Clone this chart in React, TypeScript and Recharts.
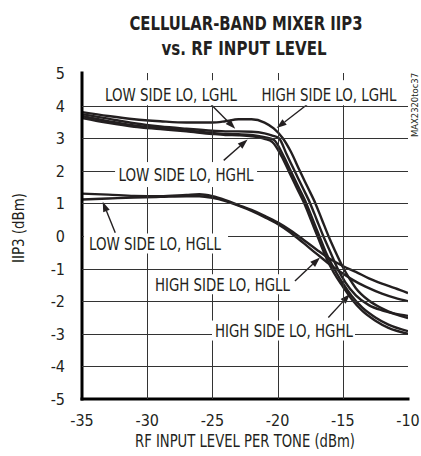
import React from 'react'
import { LineChart, Line, XAxis, YAxis, ReferenceLine } from 'recharts'

const INK = '#231f20'
const GRID = '#333333'
const FONT = "'Liberation Sans Narrow', 'Arial Narrow', 'DejaVu Sans Condensed', Roboto, sans-serif"

const xTicks = [-35, -30, -25, -20, -15, -10]
const yTicks = [-5, -4, -3, -2, -1, 0, 1, 2, 3, 4, 5]

// IIP3 (dBm) vs RF input level per tone (dBm)
const highSideLghl = [
  [-35, 3.8], [-33, 3.68], [-31, 3.58], [-29, 3.52], [-27, 3.48], [-25, 3.48],
  [-24, 3.52], [-23, 3.58], [-22, 3.58], [-21, 3.48], [-20.3, 3.3], [-19.6, 3.0],
  [-19, 2.6], [-18.3, 2.0], [-17.7, 1.5], [-17.1, 1.0], [-16.6, 0.5], [-16.1, 0],
  [-15.6, -0.45], [-15, -0.95], [-14.5, -1.3], [-14, -1.6], [-13, -1.98],
  [-12, -2.22], [-11, -2.4], [-10, -2.52],
]
const lowSideLghl = [
  [-35, 3.74], [-33, 3.6], [-31, 3.46], [-29, 3.36], [-27, 3.29], [-25, 3.23],
  [-24, 3.21], [-23, 3.21], [-22, 3.2], [-21, 3.15], [-20.4, 3.08], [-19.9, 3.0],
  [-19.3, 2.5], [-18.7, 2.0], [-18.1, 1.5], [-17.5, 1.0], [-17, 0.5], [-16.5, 0],
  [-16, -0.45], [-15.4, -1.0], [-14.8, -1.42], [-14, -1.82], [-13, -2.12],
  [-12, -2.28], [-11, -2.38], [-10, -2.45],
]
const highSideHghl = [
  [-35, 3.68], [-33, 3.52], [-31, 3.39], [-29, 3.31], [-27, 3.24], [-25, 3.16],
  [-24, 3.13], [-23, 3.12], [-22, 3.1], [-21, 3.03], [-20.3, 2.95], [-19.6, 2.5],
  [-19, 2.0], [-18.4, 1.5], [-17.8, 1.0], [-17.3, 0.5], [-16.8, 0], [-16.3, -0.5],
  [-15.6, -1.05], [-15, -1.45], [-14.3, -1.85], [-13.5, -2.2], [-12.5, -2.5],
  [-11.5, -2.72], [-10, -2.92],
]
const lowSideHghl = [
  [-35, 3.62], [-33, 3.47], [-31, 3.35], [-29, 3.28], [-27, 3.21], [-25, 3.13],
  [-24, 3.1], [-23, 3.09], [-22, 3.06], [-21, 2.98], [-20.4, 2.88], [-19.7, 2.45],
  [-19.1, 1.95], [-18.5, 1.45], [-17.9, 0.95], [-17.4, 0.45], [-16.9, -0.05],
  [-16.4, -0.55], [-15.7, -1.12], [-15, -1.55], [-14.3, -1.95], [-13.5, -2.3],
  [-12.5, -2.6], [-11.5, -2.82], [-10, -3.0],
]
const lowSideHgll = [
  [-35, 1.12], [-33, 1.15], [-31, 1.18], [-29, 1.2], [-27, 1.22], [-26, 1.22],
  [-25, 1.17], [-24, 1.07], [-23, 0.93], [-22, 0.77], [-21, 0.58], [-20, 0.37],
  [-19, 0.1], [-18, -0.22], [-17, -0.55], [-16, -0.87], [-15, -1.15], [-14, -1.4],
  [-13, -1.6], [-12, -1.77], [-11, -1.9], [-10, -2.0],
]
const highSideHgll = [
  [-35, 1.3], [-33, 1.27], [-31, 1.23], [-29, 1.22], [-27, 1.26], [-26, 1.28],
  [-25, 1.22], [-24, 1.1], [-23, 0.95], [-22, 0.8], [-21, 0.62], [-20, 0.42],
  [-19, 0.17], [-18, -0.12], [-17, -0.42], [-16, -0.7], [-15, -0.92], [-14, -1.1],
  [-13, -1.3], [-12, -1.46], [-11, -1.6], [-10, -1.75],
]

const series = [
  { name: 'HIGH SIDE LO, LGHL', points: highSideLghl },
  { name: 'LOW SIDE LO, LGHL', points: lowSideLghl },
  { name: 'HIGH SIDE LO, HGHL', points: highSideHghl },
  { name: 'LOW SIDE LO, HGHL', points: lowSideHghl },
  { name: 'LOW SIDE LO, HGLL', points: lowSideHgll },
  { name: 'HIGH SIDE LO, HGLL', points: highSideHgll },
]

// callouts: text centre and arrow (data units); box = white backing [left, right, top, bottom] in px
const callouts = [
  { text: 'LOW SIDE LO, LGHL', at: [-28.17, 4.35], len: 132, box: [-87, 79, -14, 11], arrow: [[-25.16, 4.06], [-23.25, 3.29]] },
  { text: 'HIGH SIDE LO, LGHL', at: [-16.06, 4.35], len: 135, box: [-79, 76, -14, 11], arrow: [[-17.26, 4.18], [-20.07, 3.31]] },
  { text: 'LOW SIDE LO, HGHL', at: [-27.02, 1.9], len: 135, box: [-71, 71, -12, 13], arrow: [[-24.13, 2.32], [-22.3, 2.96]] },
  { text: 'LOW SIDE LO, HGLL', at: [-29.4, -0.23], len: 132, box: [-71, 73, -10, 10], arrow: [[-32.45, 0.1], [-33.41, 1.05]] },
  { text: 'HIGH SIDE LO, HGLL', at: [-24.23, -1.48], len: 135, box: [-70, 70, -10, 10], arrow: [[-18.67, -1.38], [-16.75, -0.66]] },
  { text: 'HIGH SIDE LO, HGHL', at: [-19.51, -2.9], len: 138, box: [-72, 71, -10, 10], arrow: [[-16.11, -2.5], [-14.45, -1.78]] },
]

// plot box inside the 421x456 page
const W = 421
const H = 456
const M = { top: 73, right: 13, bottom: 57, left: 82 }
const PW = W - M.left - M.right
const PH = H - M.top - M.bottom
const [xMin, xMax] = [xTicks[0], xTicks[xTicks.length - 1]]
const [yMin, yMax] = [yTicks[0], yTicks[yTicks.length - 1]]
const gx = (v: number) => M.left + ((v - xMin) / (xMax - xMin)) * PW
const gy = (v: number) => M.top + ((yMax - v) / (yMax - yMin)) * PH
const crisp = (v: number) => Math.round(v) + 0.5

const XTick = (p: any) => (
  <text x={p.x} y={p.y + 27} textAnchor="middle" fontSize={16} fill={INK} fontFamily={FONT}>
    {p.payload.value}
  </text>
)

const YTick = (p: any) => (
  <text x={p.x - 17} y={p.y + 6} textAnchor="end" fontSize={16} fill={INK} fontFamily={FONT}>
    {p.payload.value}
  </text>
)

function Arrow(p: any) {
  const { x1, y1, x2, y2 } = p
  const a = Math.atan2(y2 - y1, x2 - x1)
  const c = Math.cos(a)
  const s = Math.sin(a)
  const bx = x2 - 10 * c
  const by = y2 - 10 * s
  const pts = `${x2},${y2} ${bx + 3.5 * s},${by - 3.5 * c} ${bx - 3.5 * s},${by + 3.5 * c}`
  return (
    <g>
      <line x1={x1} y1={y1} x2={bx} y2={by} stroke={INK} strokeWidth={1.4} />
      <polygon points={pts} fill={INK} />
    </g>
  )
}

const frame = { stroke: '#000', strokeWidth: 3, strokeLinecap: 'square' as const }

export default function App() {
  return (
    <div style={{ position: 'absolute', left: 0, top: 0, width: W, height: H, background: '#fff' }}>
      <LineChart width={W} height={H} margin={{ top: M.top, right: M.right, bottom: 0, left: 0 }}>
        <XAxis
          type="number"
          dataKey="x"
          domain={[xMin, xMax]}
          ticks={xTicks}
          height={M.bottom}
          axisLine={frame}
          tickLine={false}
          tickSize={0}
          tickMargin={0}
          tick={<XTick />}
          allowDataOverflow
        />
        <XAxis
          xAxisId="top"
          orientation="top"
          type="number"
          domain={[xMin, xMax]}
          ticks={xTicks}
          height={0}
          axisLine={frame}
          tickLine={false}
          tick={false}
          allowDataOverflow
        />
        <YAxis
          type="number"
          dataKey="y"
          domain={[yMin, yMax]}
          ticks={yTicks}
          width={M.left}
          axisLine={frame}
          tickLine={false}
          tickSize={0}
          tickMargin={0}
          tick={<YTick />}
          allowDataOverflow
        />
        <YAxis
          yAxisId="right"
          orientation="right"
          type="number"
          domain={[yMin, yMax]}
          ticks={yTicks}
          width={0}
          axisLine={frame}
          tickLine={false}
          tick={false}
          allowDataOverflow
        />
        {series.map((s) => (
          <Line
            key={s.name}
            name={s.name}
            data={s.points.map(([x, y]) => ({ x, y }))}
            dataKey="y"
            type="monotone"
            stroke={INK}
            strokeWidth={2.4}
            dot={false}
            isAnimationActive={false}
          />
        ))}
        {callouts.map((c) => (
          <ReferenceLine
            key={c.text + '-arrow'}
            segment={[
              { x: c.arrow[0][0], y: c.arrow[0][1] },
              { x: c.arrow[1][0], y: c.arrow[1][1] },
            ]}
            shape={Arrow}
          />
        ))}
      </LineChart>
      <svg width={W} height={H} style={{ position: 'absolute', left: 0, top: 0, pointerEvents: 'none' }}>
        {xTicks.slice(1, -1).map((v) => (
          <line key={'gx' + v} x1={crisp(gx(v))} x2={crisp(gx(v))} y1={M.top} y2={M.top + PH} stroke={GRID} strokeWidth={1} />
        ))}
        {yTicks.slice(1, -1).map((v) => (
          <line key={'gy' + v} x1={M.left} x2={M.left + PW} y1={crisp(gy(v))} y2={crisp(gy(v))} stroke={GRID} strokeWidth={1} />
        ))}
        {callouts.map((c) => {
          const cx = gx(c.at[0])
          const cy = gy(c.at[1])
          const [l, r, t, b] = c.box
          return (
            <g key={c.text}>
              <rect x={cx + l} y={cy + t} width={r - l} height={b - t} fill="#fff" />
              <text
                x={cx}
                y={cy + 6.5}
                textAnchor="middle"
                fontSize={17}
                fill={INK}
                fontFamily={FONT}
                textLength={c.len}
                lengthAdjust="spacingAndGlyphs"
              >
                {c.text}
              </text>
            </g>
          )
        })}
        <text x={246} y={30} textAnchor="middle" fontSize={20} fontWeight="bold" fill={INK} fontFamily={FONT} textLength={233} lengthAdjust="spacingAndGlyphs">
          CELLULAR-BAND MIXER IIP3
        </text>
        <text x={244} y={55} textAnchor="middle" fontSize={20} fontWeight="bold" fill={INK} fontFamily={FONT} textLength={165} lengthAdjust="spacingAndGlyphs">
          vs. RF INPUT LEVEL
        </text>
        <text x={245} y={447} textAnchor="middle" fontSize={17} fill={INK} fontFamily={FONT} textLength={220} lengthAdjust="spacingAndGlyphs">
          RF INPUT LEVEL PER TONE (dBm)
        </text>
        <text transform="translate(24,228) rotate(-90)" textAnchor="middle" fontSize={16} fill={INK} fontFamily={FONT} textLength={70} lengthAdjust="spacingAndGlyphs">
          IIP3 (dBm)
        </text>
        <text transform="translate(418,105) rotate(-90)" textAnchor="middle" fontSize={9} fill={INK} fontFamily={FONT} textLength={64} lengthAdjust="spacingAndGlyphs">
          MAX2320toc37
        </text>
      </svg>
    </div>
  )
}
